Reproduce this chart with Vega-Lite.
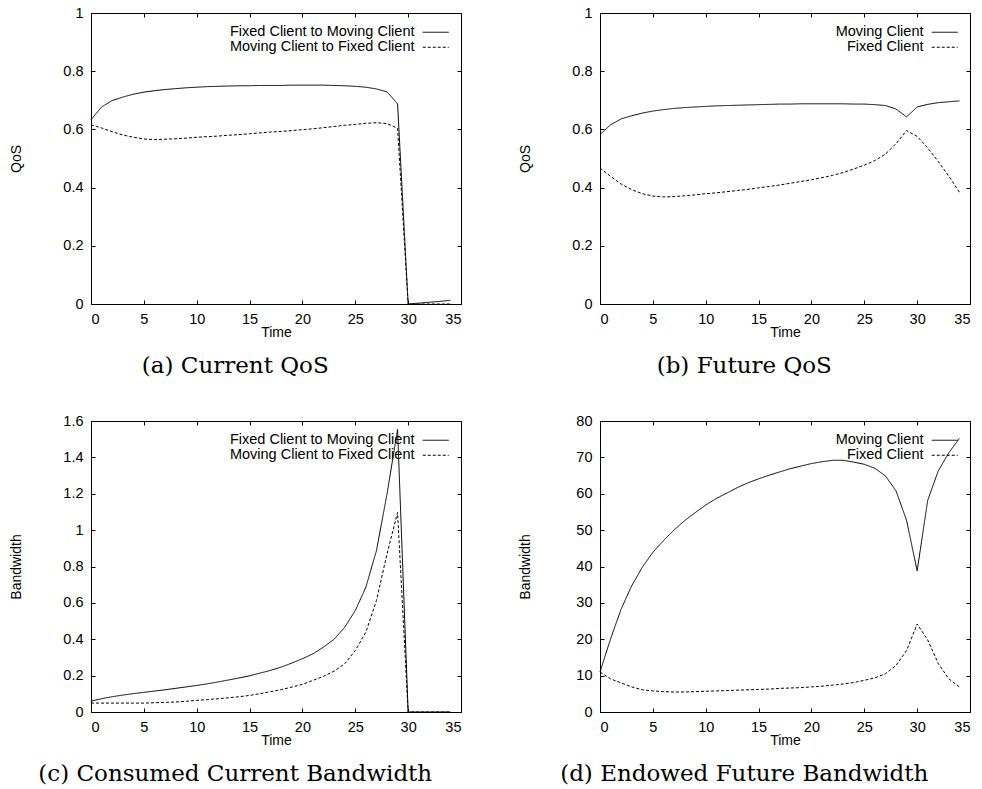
{
"$schema":"https://vega.github.io/schema/vega-lite/v6.json",
"background":"white",
"padding":{"left":8,"top":4,"right":0,"bottom":0},
"datasets":{
"qa":[{"t":0,"a":0.633,"b":0.616},{"t":1,"a":0.677,"b":0.605},{"t":2,"a":0.699,"b":0.592},{"t":3,"a":0.711,"b":0.581},{"t":4,"a":0.721,"b":0.573},{"t":5,"a":0.728,"b":0.567},{"t":6,"a":0.733,"b":0.565},{"t":7,"a":0.737,"b":0.566},{"t":8,"a":0.740,"b":0.568},{"t":9,"a":0.743,"b":0.570},{"t":10,"a":0.745,"b":0.573},{"t":11,"a":0.747,"b":0.575},{"t":12,"a":0.748,"b":0.577},{"t":13,"a":0.749,"b":0.580},{"t":14,"a":0.750,"b":0.582},{"t":15,"a":0.750,"b":0.585},{"t":16,"a":0.751,"b":0.588},{"t":17,"a":0.751,"b":0.591},{"t":18,"a":0.751,"b":0.593},{"t":19,"a":0.752,"b":0.596},{"t":20,"a":0.752,"b":0.599},{"t":21,"a":0.752,"b":0.602},{"t":22,"a":0.752,"b":0.606},{"t":23,"a":0.751,"b":0.610},{"t":24,"a":0.750,"b":0.614},{"t":25,"a":0.748,"b":0.617},{"t":26,"a":0.745,"b":0.621},{"t":27,"a":0.739,"b":0.623},{"t":28,"a":0.729,"b":0.620},{"t":29,"a":0.688,"b":0.604},{"t":30,"a":0,"b":0},{"t":31,"a":0.003,"b":0},{"t":32,"a":0.006,"b":0},{"t":33,"a":0.009,"b":0},{"t":34,"a":0.013,"b":0}],
"qb":[{"t":0,"a":0.582,"b":0.467},{"t":1,"a":0.616,"b":0.439},{"t":2,"a":0.636,"b":0.412},{"t":3,"a":0.647,"b":0.393},{"t":4,"a":0.656,"b":0.379},{"t":5,"a":0.663,"b":0.371},{"t":6,"a":0.668,"b":0.368},{"t":7,"a":0.672,"b":0.369},{"t":8,"a":0.675,"b":0.372},{"t":9,"a":0.677,"b":0.375},{"t":10,"a":0.679,"b":0.379},{"t":11,"a":0.681,"b":0.382},{"t":12,"a":0.682,"b":0.386},{"t":13,"a":0.683,"b":0.390},{"t":14,"a":0.684,"b":0.394},{"t":15,"a":0.685,"b":0.399},{"t":16,"a":0.686,"b":0.404},{"t":17,"a":0.687,"b":0.409},{"t":18,"a":0.687,"b":0.415},{"t":19,"a":0.688,"b":0.421},{"t":20,"a":0.688,"b":0.427},{"t":21,"a":0.688,"b":0.434},{"t":22,"a":0.688,"b":0.442},{"t":23,"a":0.688,"b":0.452},{"t":24,"a":0.687,"b":0.464},{"t":25,"a":0.687,"b":0.477},{"t":26,"a":0.685,"b":0.493},{"t":27,"a":0.682,"b":0.515},{"t":28,"a":0.670,"b":0.551},{"t":29,"a":0.643,"b":0.596},{"t":30,"a":0.677,"b":0.576},{"t":31,"a":0.686,"b":0.536},{"t":32,"a":0.692,"b":0.490},{"t":33,"a":0.695,"b":0.439},{"t":34,"a":0.698,"b":0.384}],
"bc":[{"t":0,"a":0.060,"b":0.049},{"t":1,"a":0.073,"b":0.049},{"t":2,"a":0.084,"b":0.049},{"t":3,"a":0.093,"b":0.049},{"t":4,"a":0.101,"b":0.049},{"t":5,"a":0.108,"b":0.049},{"t":6,"a":0.115,"b":0.051},{"t":7,"a":0.122,"b":0.053},{"t":8,"a":0.130,"b":0.055},{"t":9,"a":0.138,"b":0.059},{"t":10,"a":0.146,"b":0.064},{"t":11,"a":0.155,"b":0.068},{"t":12,"a":0.165,"b":0.073},{"t":13,"a":0.176,"b":0.078},{"t":14,"a":0.187,"b":0.084},{"t":15,"a":0.199,"b":0.091},{"t":16,"a":0.214,"b":0.101},{"t":17,"a":0.229,"b":0.112},{"t":18,"a":0.247,"b":0.123},{"t":19,"a":0.269,"b":0.137},{"t":20,"a":0.293,"b":0.152},{"t":21,"a":0.320,"b":0.174},{"t":22,"a":0.357,"b":0.196},{"t":23,"a":0.400,"b":0.225},{"t":24,"a":0.466,"b":0.265},{"t":25,"a":0.558,"b":0.338},{"t":26,"a":0.686,"b":0.439},{"t":27,"a":0.887,"b":0.613},{"t":28,"a":1.198,"b":0.869},{"t":29,"a":1.554,"b":1.097},{"t":30,"a":0,"b":0},{"t":31,"a":0,"b":0},{"t":32,"a":0,"b":0},{"t":33,"a":0,"b":0},{"t":34,"a":0,"b":0}],
"bd":[{"t":0,"a":11.0,"b":11.0},{"t":1,"a":20.1,"b":9.1},{"t":2,"a":28.3,"b":8.0},{"t":3,"a":34.7,"b":6.9},{"t":4,"a":39.8,"b":6.1},{"t":5,"a":43.9,"b":5.8},{"t":6,"a":47.1,"b":5.6},{"t":7,"a":50.0,"b":5.5},{"t":8,"a":52.6,"b":5.5},{"t":9,"a":54.8,"b":5.6},{"t":10,"a":56.9,"b":5.7},{"t":11,"a":58.7,"b":5.8},{"t":12,"a":60.2,"b":5.9},{"t":13,"a":61.7,"b":6.0},{"t":14,"a":63.0,"b":6.1},{"t":15,"a":64.1,"b":6.2},{"t":16,"a":65.1,"b":6.3},{"t":17,"a":66.0,"b":6.5},{"t":18,"a":66.9,"b":6.6},{"t":19,"a":67.6,"b":6.7},{"t":20,"a":68.3,"b":6.9},{"t":21,"a":68.8,"b":7.1},{"t":22,"a":69.2,"b":7.4},{"t":23,"a":69.2,"b":7.7},{"t":24,"a":68.7,"b":8.1},{"t":25,"a":68.1,"b":8.7},{"t":26,"a":67.0,"b":9.4},{"t":27,"a":64.9,"b":10.5},{"t":28,"a":60.8,"b":12.8},{"t":29,"a":52.7,"b":16.9},{"t":30,"a":38.8,"b":24.2},{"t":31,"a":58.2,"b":19.8},{"t":32,"a":66.3,"b":13.3},{"t":33,"a":71.3,"b":9.1},{"t":34,"a":75.2,"b":6.9}]
},
"vconcat":[
{"hconcat":[
{"width":370,"height":291,"data":{"name":"qa"},"transform":[{"fold":["a","b"],"as":["s","v"]}],
 "title":"(a) Current QoS",
 "layer":[
  {"mark":{"type":"line","color":"black","strokeWidth":1},
   "encoding":{"x":{"field":"t","type":"quantitative","scale":{"domain":[0,35],"nice":false},"axis":{"values":[0,5,10,15,20,25,30,35],"title":"Time"}},
    "y":{"field":"v","type":"quantitative","scale":{"domain":[0,1],"nice":false},"axis":{"values":[0,0.2,0.4,0.6,0.8,1],"title":"QoS","format":"~r"}},
    "strokeDash":{"field":"s","type":"nominal","scale":{"domain":["a","b"],"range":[[1,0],[3,2]]},"legend":{"labelExpr":"datum.label == 'a' ? 'Fixed Client to Moving Client' : 'Moving Client to Fixed Client'"}}}},
  {"mark":{"type":"point","opacity":0},
   "encoding":{"x":{"field":"t","type":"quantitative","axis":{"orient":"top","labels":false,"title":null,"values":[0,5,10,15,20,25,30,35]}},
    "y":{"field":"v","type":"quantitative","axis":{"orient":"right","labels":false,"title":null,"values":[0,0.2,0.4,0.6,0.8,1]}}}}
 ],
 "resolve":{"axis":{"x":"independent","y":"independent"}}},
{"width":370,"height":291,"data":{"name":"qb"},"transform":[{"fold":["a","b"],"as":["s","v"]}],
 "title":"(b) Future QoS",
 "layer":[
  {"mark":{"type":"line","color":"black","strokeWidth":1},
   "encoding":{"x":{"field":"t","type":"quantitative","scale":{"domain":[0,35],"nice":false},"axis":{"values":[0,5,10,15,20,25,30,35],"title":"Time"}},
    "y":{"field":"v","type":"quantitative","scale":{"domain":[0,1],"nice":false},"axis":{"values":[0,0.2,0.4,0.6,0.8,1],"title":"QoS","format":"~r"}},
    "strokeDash":{"field":"s","type":"nominal","scale":{"domain":["a","b"],"range":[[1,0],[3,2]]},"legend":{"labelExpr":"datum.label == 'a' ? 'Moving Client' : 'Fixed Client'"}}}},
  {"mark":{"type":"point","opacity":0},
   "encoding":{"x":{"field":"t","type":"quantitative","axis":{"orient":"top","labels":false,"title":null,"values":[0,5,10,15,20,25,30,35]}},
    "y":{"field":"v","type":"quantitative","axis":{"orient":"right","labels":false,"title":null,"values":[0,0.2,0.4,0.6,0.8,1]}}}}
 ],
 "resolve":{"axis":{"x":"independent","y":"independent"}}}
],"spacing":55,"resolve":{"scale":{"strokeDash":"independent"},"legend":{"strokeDash":"independent"}}},
{"hconcat":[
{"width":370,"height":291,"data":{"name":"bc"},"transform":[{"fold":["a","b"],"as":["s","v"]}],
 "title":"(c) Consumed Current Bandwidth",
 "layer":[
  {"mark":{"type":"line","color":"black","strokeWidth":1},
   "encoding":{"x":{"field":"t","type":"quantitative","scale":{"domain":[0,35],"nice":false},"axis":{"values":[0,5,10,15,20,25,30,35],"title":"Time"}},
    "y":{"field":"v","type":"quantitative","scale":{"domain":[0,1.6],"nice":false},"axis":{"values":[0,0.2,0.4,0.6,0.8,1,1.2,1.4,1.6],"title":"Bandwidth","format":"~r"}},
    "strokeDash":{"field":"s","type":"nominal","scale":{"domain":["a","b"],"range":[[1,0],[3,2]]},"legend":{"labelExpr":"datum.label == 'a' ? 'Fixed Client to Moving Client' : 'Moving Client to Fixed Client'"}}}},
  {"mark":{"type":"point","opacity":0},
   "encoding":{"x":{"field":"t","type":"quantitative","axis":{"orient":"top","labels":false,"title":null,"values":[0,5,10,15,20,25,30,35]}},
    "y":{"field":"v","type":"quantitative","axis":{"orient":"right","labels":false,"title":null,"values":[0,0.2,0.4,0.6,0.8,1,1.2,1.4,1.6]}}}}
 ],
 "resolve":{"axis":{"x":"independent","y":"independent"}}},
{"width":370,"height":291,"data":{"name":"bd"},"transform":[{"fold":["a","b"],"as":["s","v"]}],
 "title":"(d) Endowed Future Bandwidth",
 "layer":[
  {"mark":{"type":"line","color":"black","strokeWidth":1},
   "encoding":{"x":{"field":"t","type":"quantitative","scale":{"domain":[0,35],"nice":false},"axis":{"values":[0,5,10,15,20,25,30,35],"title":"Time"}},
    "y":{"field":"v","type":"quantitative","scale":{"domain":[0,80],"nice":false},"axis":{"values":[0,10,20,30,40,50,60,70,80],"title":"Bandwidth","format":"d"}},
    "strokeDash":{"field":"s","type":"nominal","scale":{"domain":["a","b"],"range":[[1,0],[3,2]]},"legend":{"labelExpr":"datum.label == 'a' ? 'Moving Client' : 'Fixed Client'"}}}},
  {"mark":{"type":"point","opacity":0},
   "encoding":{"x":{"field":"t","type":"quantitative","axis":{"orient":"top","labels":false,"title":null,"values":[0,5,10,15,20,25,30,35]}},
    "y":{"field":"v","type":"quantitative","axis":{"orient":"right","labels":false,"title":null,"values":[0,10,20,30,40,50,60,70,80]}}}}
 ],
 "resolve":{"axis":{"x":"independent","y":"independent"}}}
],"spacing":55,"resolve":{"scale":{"strokeDash":"independent"},"legend":{"strokeDash":"independent"}}}
],
"spacing":34,
"resolve":{"scale":{"strokeDash":"independent"},"legend":{"strokeDash":"independent"}},
"config":{
 "view":{"stroke":"black","strokeWidth":1},
 "axis":{"domain":false,"grid":false,"tickColor":"black","tickSize":-4,"labelFont":"Liberation Sans","labelFontSize":14.5,"labelColor":"black","labelPadding":12,"titleFont":"Liberation Sans","titleFontSize":14,"titleFontWeight":"normal","titleColor":"black"},
 "axisY":{"titleX":-68,"titleY":145.5},
 "axisX":{"titlePadding":0},
 "legend":{"orient":"none","legendX":337.5,"legendY":12,"title":null,"symbolType":"M-2,0H2","symbolSize":169,"symbolStrokeColor":"black","symbolStrokeWidth":1,"labelAlign":"right","labelOffset":-28.5,"labelLimit":300,"labelFont":"Liberation Sans","labelFontSize":14.5,"labelColor":"black","rowPadding":0,"padding":0},
 "title":{"orient":"bottom","font":"DejaVu Serif","fontSize":23,"fontWeight":"normal","color":"black","anchor":"middle","frame":"bounds","offset":15}
}
}
